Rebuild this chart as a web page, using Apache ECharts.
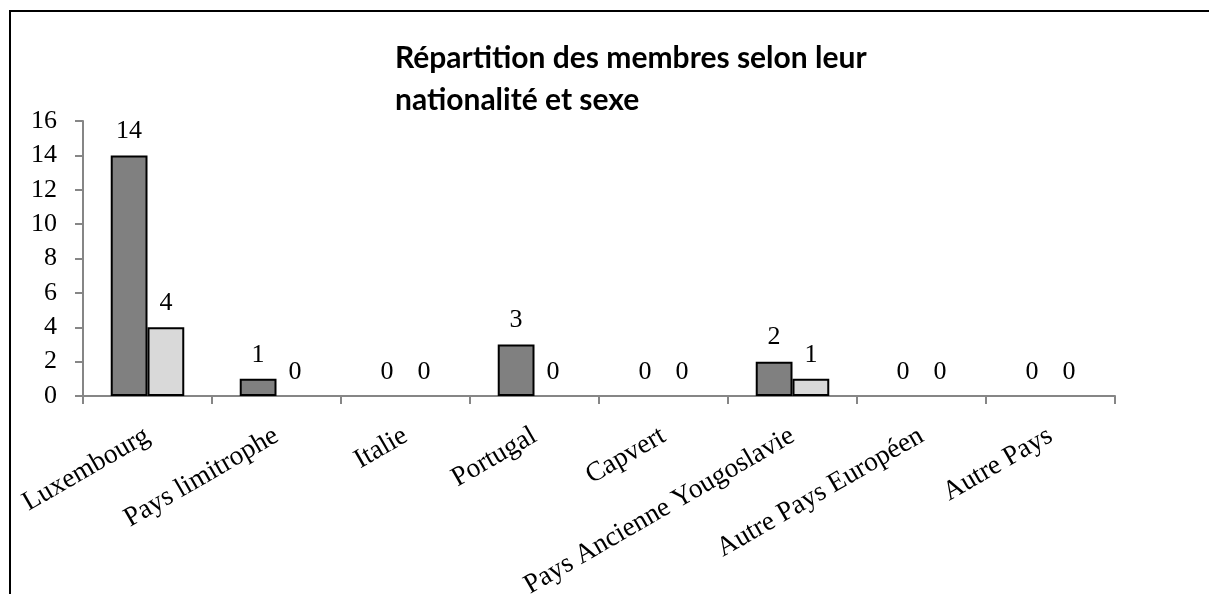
<!DOCTYPE html>
<html>
<head>
<meta charset="utf-8">
<script src="https://cdn.jsdelivr.net/npm/echarts@6/dist/echarts.min.js"></script>
<style>
  html, body { margin: 0; padding: 0; background: #fff; }
  #chart { width: 1209px; height: 594px; }
</style>
</head>
<body>
<div id="chart"></div>
<script>
var categories = ['Luxembourg', 'Pays limitrophe', 'Italie', 'Portugal', 'Capvert',
  'Pays Ancienne Yougoslavie', 'Autre Pays Européen', 'Autre Pays'];
var hommes = [14, 1, 0, 3, 0, 2, 0, 0];
var femmes = [4, 0, 0, 0, 0, 1, 0, 0];
var yTicks = [0, 2, 4, 6, 8, 10, 12, 14, 16];

var chart = echarts.init(document.getElementById('chart'));
var serif = 'Liberation Serif';
var axisGray = '#868686';

// zero-height bars get no border, like in Excel
function bars(values) {
  return values.map(function (v) {
    return v === 0 ? { value: v, itemStyle: { borderWidth: 0 } } : v;
  });
}

var labelStyle = {
  show: true,
  position: 'top',
  distance: 11,
  color: '#000',
  fontFamily: serif,
  fontSize: 26
};

var option = {
  backgroundColor: '#fff',
  animation: false,
  title: {
    text: 'Répartition des membres selon leur\nnationalité et sexe',
    left: 390,
    top: 32,
    textStyle: {
      fontFamily: 'Lato',
      fontWeight: 'bold',
      fontSize: 30,
      lineHeight: 42,
      color: '#000'
    }
  },
  graphic: [{
    type: 'rect',
    shape: { x: 10, y: 11, width: 1400, height: 800 },
    style: { fill: 'none', stroke: '#000', lineWidth: 2 },
    silent: true
  }],
  grid: { left: 83, right: 94, top: 121, bottom: 198, outerBoundsMode: 'none', containLabel: false },
  xAxis: {
    type: 'category',
    data: categories,
    axisLine: { lineStyle: { color: axisGray, width: 2 } },
    axisTick: { show: true, length: 8, lineStyle: { color: axisGray, width: 2 } },
    axisLabel: {
      interval: 0,
      rotate: 30,
      margin: 38,
      color: '#000',
      fontFamily: serif,
      fontSize: 27.5
    }
  },
  yAxis: {
    type: 'value',
    min: yTicks[0],
    max: yTicks[yTicks.length - 1],
    interval: 2,
    splitLine: { show: false },
    axisLine: { show: true, lineStyle: { color: axisGray, width: 2 } },
    axisTick: { show: true, length: 8, lineStyle: { color: axisGray, width: 2 } },
    axisLabel: {
      margin: 26,
      color: '#000',
      fontFamily: serif,
      fontSize: 26
    }
  },
  series: [{
    name: 'Hommes',
    type: 'bar',
    data: bars(hommes),
    barGap: '0%',
    barCategoryGap: '43%',
    itemStyle: { color: '#808080', borderColor: '#000', borderWidth: 2 },
    label: labelStyle
  }, {
    name: 'Femmes',
    type: 'bar',
    data: bars(femmes),
    itemStyle: { color: '#d9d9d9', borderColor: '#000', borderWidth: 2 },
    label: labelStyle
  }]
};

chart.setOption(option);
</script>
</body>
</html>
